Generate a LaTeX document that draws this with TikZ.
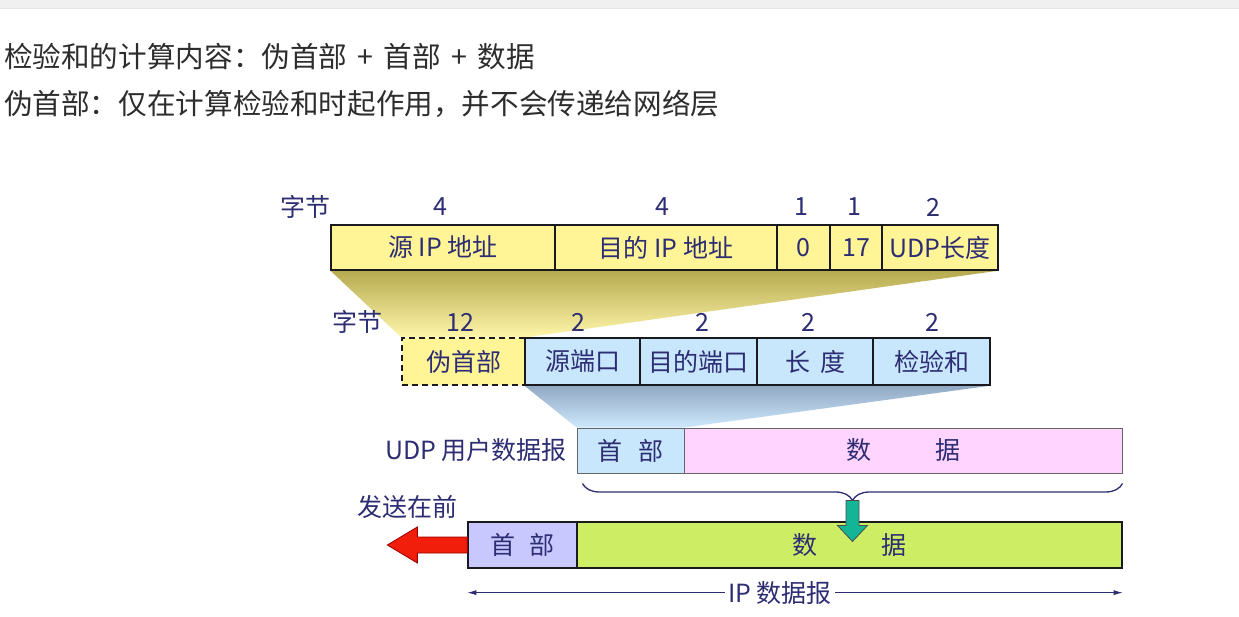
\documentclass[tikz,border=0pt]{standalone}
\usepackage{fontspec}
\setmainfont{Noto Sans CJK SC}
\usetikzlibrary{decorations.pathreplacing,calc,backgrounds,arrows.meta}
\definecolor{navy}{RGB}{45,45,115}
\definecolor{toptext}{RGB}{45,45,45}
\definecolor{ipyellow}{RGB}{255,244,150}
\definecolor{udpblue}{RGB}{200,230,252}
\definecolor{udppink}{RGB}{255,212,255}
\definecolor{hdrlav}{RGB}{200,200,255}
\definecolor{datagreen}{RGB}{205,238,100}
\definecolor{shadeolive}{RGB}{182,170,80}
\definecolor{shadeyellow}{RGB}{255,246,170}
\definecolor{shadeblue1}{RGB}{145,168,195}
\definecolor{shadeblue2}{RGB}{205,232,252}
\definecolor{arrowred}{RGB}{240,30,10}
\definecolor{arrowteal}{RGB}{20,180,150}
\definecolor{boxline}{RGB}{25,25,30}
\begin{document}
\begin{tikzpicture}[x=1pt,y=-1pt,
  cell/.style={draw=boxline, line width=1.3pt, inner sep=0pt, text=navy,
    font=\fontsize{25}{28}\selectfont},
  lbl/.style={inner sep=0pt, text=navy, font=\fontsize{25}{28}\selectfont},
  note/.style={inner sep=0pt, anchor=west, text=toptext, font=\fontsize{28.6}{33}\selectfont}]
\useasboundingbox (0,0) rectangle (1239,617);

% header text
\node[note] (t1) at (4,57) {检验和的计算内容：伪首部\hspace{0.36em}+\hspace{0.36em}首部\hspace{0.36em}+\hspace{0.36em}数据};
\node[note] (t2) at (4,104) {伪首部：仅在计算检验和时起作用，并不会传递给网络层};

% row 1: pseudo header contents
\node[lbl] (b1) at (305,207) {字节};
\node[cell, fill=ipyellow, minimum width=224, minimum height=45] (src) at (443,247.5) {源 IP 地址};
\node[cell, fill=ipyellow, minimum width=222, minimum height=45] (dst) at (666,247.5) {目的 IP 地址};
\node[cell, fill=ipyellow, minimum width=53, minimum height=45] (zero) at (803.5,247.5) {0};
\node[cell, fill=ipyellow, minimum width=52, minimum height=45] (proto) at (856,247.5) {17};
\node[cell, fill=ipyellow, minimum width=116, minimum height=45] (ulen) at (940,247.5) {UDP长度};
\node[lbl] (n1) at (440,207) {4};
\node[lbl] (n2) at (662,207) {4};
\node[lbl] (n3) at (801,207) {1};
\node[lbl] (n4) at (854,207) {1};
\node[lbl] (n5) at (933,207) {2};

% row 2: UDP header with pseudo header
\node[lbl] (b2) at (357,322) {字节};
\node[cell, dash pattern=on 6pt off 4pt, fill=ipyellow, minimum width=123, minimum height=47] (pseudo) at (463.5,361.5) {伪首部};
\node[cell, fill=udpblue, minimum width=115, minimum height=47] (sport) at (582.5,361.5) {源端口};
\node[cell, fill=udpblue, minimum width=117, minimum height=47] (dport) at (698.5,361.5) {目的端口};
\node[cell, fill=udpblue, minimum width=116, minimum height=47] (len) at (815,361.5) {长\hspace{10pt}度};
\node[cell, fill=udpblue, minimum width=117, minimum height=47] (csum) at (931.5,361.5) {检验和};
\node[lbl] (m1) at (460,322) {12};
\node[lbl] (m2) at (578,322) {2};
\node[lbl] (m3) at (702,322) {2};
\node[lbl] (m4) at (808,322) {2};
\node[lbl] (m5) at (932,322) {2};

% row 3: UDP datagram
\node[lbl, anchor=east] (udplbl) at (567,450) {UDP 用户数据报};
\node[cell, draw=black!60, line width=1pt, fill=udpblue, minimum width=107, minimum height=45] (uhdr) at (630.5,450.5) {首\hspace{16pt}部};
\node[cell, draw=black!60, line width=1pt, fill=udppink, minimum width=438, minimum height=45] (udata) at (903,450.5) {数\hspace{64pt}据};

% row 4: IP datagram
\node[lbl] (send) at (407,507) {发送在前};
\node[cell, fill=hdrlav, minimum width=109, minimum height=46] (ihdr) at (522.5,545) {首\hspace{14pt}部};
\node[cell, fill=datagreen, minimum width=545, minimum height=46] (idata) at (849.5,545) {数\hspace{64pt}据};

% shaded fans
\begin{scope}[on background layer]
  \fill[white] (0,0) rectangle (1239,617);
  \fill[black!6] (0,0) rectangle (1239,9);
  \draw[black!10, line width=1pt] (0,9) -- (1239,9);
  \shade[top color=shadeolive, bottom color=shadeyellow]
    (src.south west) -- (ulen.south east) -- (pseudo.north east) -- (pseudo.north west) -- cycle;
  \shade[top color=shadeblue1, bottom color=shadeblue2]
    (sport.south west) -- (csum.south east) -- (uhdr.north east) -- (uhdr.north west) -- cycle;
\end{scope}

% brace
\coordinate (bl) at ($(uhdr.south west)+(6,10)$);
\coordinate (br) at ($(udata.south east)+(0,10)$);
\draw[navy, line width=1.3pt, decorate, decoration={brace, mirror, amplitude=17pt}] (bl) -- (br);
\coordinate (tip) at ($(bl)!0.5!(br)+(0,17)$);

% teal arrow down
\filldraw[fill=arrowteal, draw=black!70, line width=0.8pt]
  ($(tip)+(-6.5,0)$) -- ++(13,0) -- ++(0,25) -- ++(8.5,0) -- ($(tip)+(0,41)$) -- ($(tip)+(-15,25)$) -- ++(8.5,0) -- cycle;

% red arrow left
\filldraw[fill=arrowred, draw=red!60!black, line width=0.8pt]
  ($(ihdr.west)+(0,-8)$) -- ++(-50,0) -- ++(0,-10) -- ++(-30,18) -- ++(30,18) -- ++(0,-10) -- ++(50,0) -- cycle;

% IP datagram span
\coordinate (ipl) at ($(ihdr.south west)+(0,24)$);
\coordinate (ipr) at ($(idata.south east)+(0,24)$);
\draw[navy, line width=0.8pt, {Latex[length=9pt,width=5pt]}-{Latex[length=9pt,width=5pt]}] (ipl) -- (ipr)
  node[pos=0.477, fill=white, inner sep=3pt, text=navy, font=\fontsize{25}{28}\selectfont] (iplbl) {IP 数据报};
\end{tikzpicture}
\end{document}
